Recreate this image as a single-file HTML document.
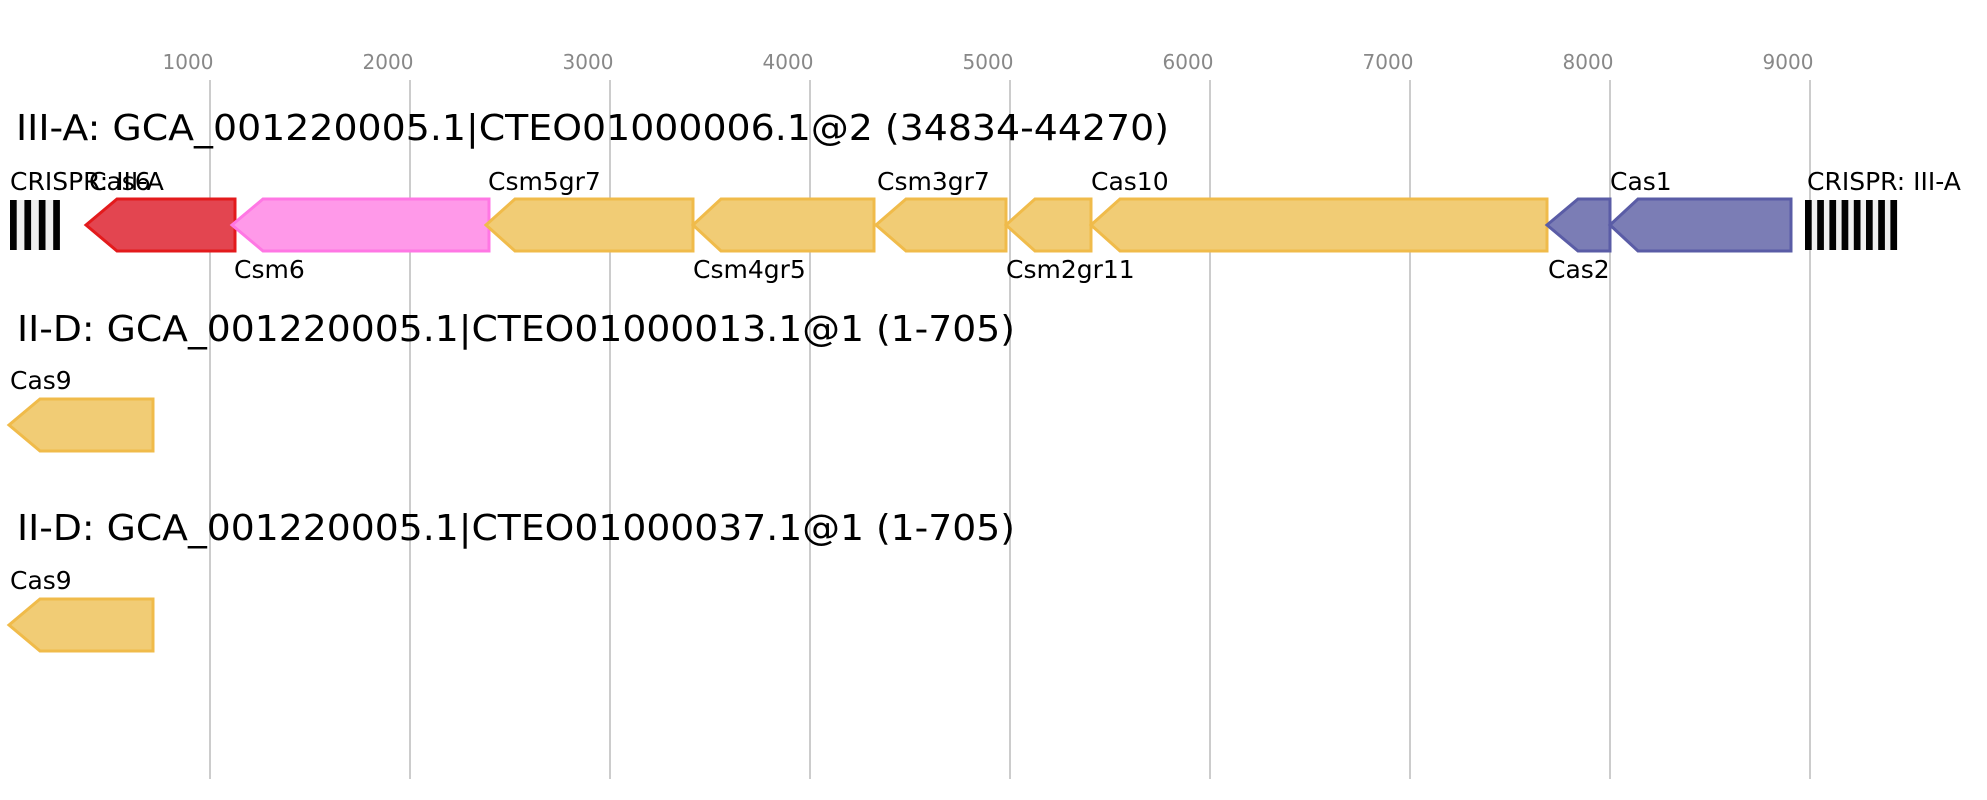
<!DOCTYPE html>
<html><head><meta charset="utf-8"><style>
html,body{margin:0;padding:0;background:#fff;}
svg{display:block;font-family:"DejaVu Sans","Liberation Sans",sans-serif;}
</style></head><body>
<svg width="1987" height="800" viewBox="0 0 1987 800" xmlns="http://www.w3.org/2000/svg">
<g stroke="#bbb" stroke-width="1.5">
<line x1="210" y1="80" x2="210" y2="779"/><line x1="410" y1="80" x2="410" y2="779"/><line x1="610" y1="80" x2="610" y2="779"/><line x1="810" y1="80" x2="810" y2="779"/><line x1="1010" y1="80" x2="1010" y2="779"/><line x1="1210" y1="80" x2="1210" y2="779"/><line x1="1410" y1="80" x2="1410" y2="779"/><line x1="1610" y1="80" x2="1610" y2="779"/><line x1="1810" y1="80" x2="1810" y2="779"/>
</g>
<g fill="#888" font-size="20" text-anchor="middle">
<text x="188" y="69">1000</text><text x="388" y="69">2000</text><text x="588" y="69">3000</text><text x="788" y="69">4000</text><text x="988" y="69">5000</text><text x="1188" y="69">6000</text><text x="1388" y="69">7000</text><text x="1588" y="69">8000</text><text x="1788" y="69">9000</text>
</g>
<g font-size="36" fill="#000">
<text x="16" y="140" textLength="1153" lengthAdjust="spacingAndGlyphs">III-A: GCA_001220005.1|CTEO01000006.1@2 (34834-44270)</text>
<text x="17" y="341" textLength="998" lengthAdjust="spacingAndGlyphs">II-D: GCA_001220005.1|CTEO01000013.1@1 (1-705)</text>
<text x="17" y="540" textLength="998" lengthAdjust="spacingAndGlyphs">II-D: GCA_001220005.1|CTEO01000037.1@1 (1-705)</text>
</g>
<!-- CRISPR arrays -->
<rect x="10" y="200" width="50" height="50" fill="#eee"/>
<g fill="#000"><rect x="10" y="200" width="6.7" height="50"/><rect x="24.4" y="200" width="6.7" height="50"/><rect x="38.8" y="200" width="6.7" height="50"/><rect x="53.2" y="200" width="6.7" height="50"/></g>
<rect x="1805" y="200" width="92" height="50" fill="#eee"/>
<g fill="#000"><rect x="1805" y="200" width="6.7" height="50"/><rect x="1817.2" y="200" width="6.7" height="50"/><rect x="1829.4" y="200" width="6.7" height="50"/><rect x="1841.6" y="200" width="6.7" height="50"/><rect x="1853.8" y="200" width="6.7" height="50"/><rect x="1866" y="200" width="6.7" height="50"/><rect x="1878.2" y="200" width="6.7" height="50"/><rect x="1890.4" y="200" width="6.7" height="50"/></g>
<g stroke-width="3">
<polygon points="86,225 117,199 235,199 235,251 117,251" fill="#e34550" stroke="#e31a1c"/>
<polygon points="232,225 263,199 489,199 489,251 263,251" fill="#ff99e9" stroke="#ff77e4"/>
<g fill="#f1cc75" stroke="#f0bb4a">
<polygon points="486,225 515,199 693,199 693,251 515,251"/>
<polygon points="693,225 721,199 874,199 874,251 721,251"/>
<polygon points="876,225 906,199 1006,199 1006,251 906,251"/>
<polygon points="1006,225 1035,199 1091,199 1091,251 1035,251"/>
<polygon points="1091,225 1120,199 1547,199 1547,251 1120,251"/>
<polygon points="9,425 40,399 153,399 153,451 40,451"/>
<polygon points="9,625 40,599 153,599 153,651 40,651"/>
</g>
<g fill="#7b7db5" stroke="#5a5ca6">
<polygon points="1547,225 1578,199 1610,199 1610,251 1578,251"/>
<polygon points="1610,225 1638,199 1791,199 1791,251 1638,251"/>
</g>
</g>
<g font-size="25" fill="#000">
<text x="10" y="190">CRISPR: III-A</text>
<text x="89" y="190">Cas6</text>
<text x="234" y="278">Csm6</text>
<text x="488" y="190">Csm5gr7</text>
<text x="693" y="278">Csm4gr5</text>
<text x="877" y="190">Csm3gr7</text>
<text x="1006" y="278">Csm2gr11</text>
<text x="1091" y="190">Cas10</text>
<text x="1548" y="278">Cas2</text>
<text x="1610" y="190">Cas1</text>
<text x="1807" y="190">CRISPR: III-A</text>
<text x="10" y="389">Cas9</text>
<text x="10" y="589">Cas9</text>
</g>
</svg>
</body></html>
